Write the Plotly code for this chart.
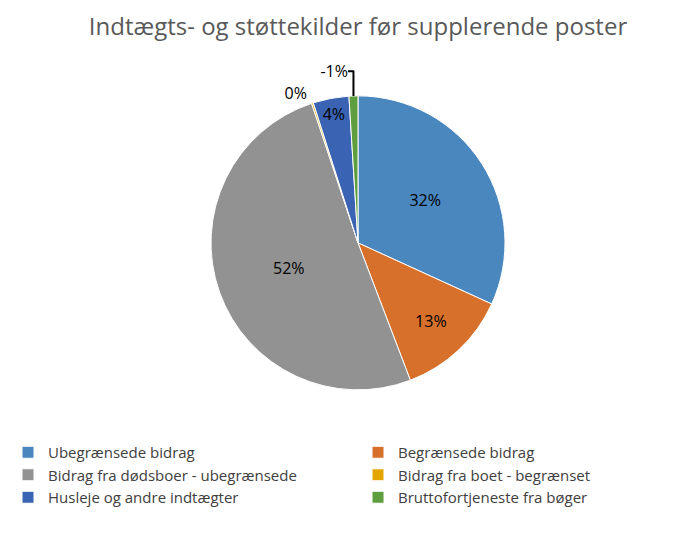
import plotly.graph_objects as go

labels = ["Ubegrænsede bidrag", "Begrænsede bidrag", "Bidrag fra dødsboer - ubegrænsede",
          "Bidrag fra boet - begrænset", "Husleje og andre indtægter", "Bruttofortjeneste fra bøger"]
values = [32.4, 12.6, 51.6, 0.2, 4.0, 1.0]  # magnitudes (last one is negative in source)
texts = ["32%", "13%", "52%", "0%", "4%", "-1%"]
colors = ["#4B87BF", "#D6702B", "#929292", "#E3A600", "#3B63B3", "#5E9E3F"]

fig = go.Figure(go.Pie(
    labels=labels, values=values, text=texts, textinfo="text",
    textposition=["inside", "inside", "inside", "outside", "inside", "outside"],
    insidetextorientation="horizontal",
    textfont=dict(size=16, color="black", family="Open Sans"),
    marker=dict(colors=colors, line=dict(color="white", width=1)),
    sort=False, direction="clockwise", rotation=0,
    domain=dict(x=[0.29, 0.71], y=[0.286, 0.836]),
    hoverinfo="label+text",
))
fig.update_layout(
    width=700, height=535, paper_bgcolor="white",
    margin=dict(l=0, r=0, t=0, b=0),
    title=dict(text="Indtægts- og støttekilder før supplerende poster", x=0.5, y=0.965,
               xanchor="center", yanchor="middle",
               font=dict(size=24, color="#595959", family="Open Sans")),
    legend=dict(orientation="h", x=0.03, y=0.2, xanchor="left", yanchor="top",
                entrywidth=0.5, entrywidthmode="fraction",
                font=dict(size=15, color="#404040", family="Open Sans"),
                tracegroupgap=0, itemwidth=30),
    uniformtext=dict(minsize=10),
)
fig.write_html("out.html")
